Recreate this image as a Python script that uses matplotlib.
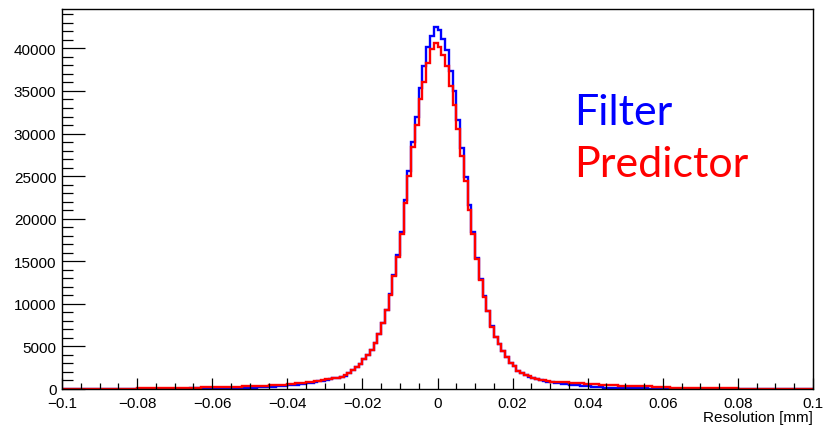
import numpy as np
import matplotlib
matplotlib.use("Agg")
import matplotlib.pyplot as plt
from matplotlib.ticker import MultipleLocator, FixedLocator, FixedFormatter

# histogram binning: 200 bins from -0.1 to 0.1 mm
x_min, x_max, n_bins = -0.1, 0.1, 200

# bin contents (entries per bin)
filter_counts = [
    12, 10, 14, 11, 15, 13, 16, 14, 18, 17,
    19, 18, 22, 20, 24, 23, 26, 25, 28, 30,
    31, 33, 32, 36, 38, 37, 41, 43, 45, 47,
    49, 52, 54, 57, 60, 62, 66, 69, 72, 76,
    80, 85, 90, 96, 103, 110, 118, 127, 137, 148,
    160, 175, 192, 210, 232, 255, 280, 310, 340, 375,
    420, 470, 520, 575, 630, 690, 760, 830, 910, 990,
    1080, 1160, 1240, 1330, 1440, 1580, 1850, 2180, 2560, 2980,
    3480, 4000, 4550, 5450, 6450, 7800, 9300, 11100, 13400, 15700,
    18400, 22200, 25600, 29000, 32000, 35300, 37900, 40200, 41500, 42500,
    42200, 41100, 39800, 37400, 35000, 31600, 28300, 24900, 21600, 18400,
    15400, 12900, 10900, 9200, 7350, 6060, 5300, 4500, 3700, 3100,
    2660, 2150, 1870, 1680, 1440, 1300, 1180, 1070, 970, 880,
    800, 730, 670, 615, 565, 520, 475, 430, 390, 350,
    310, 270, 235, 200, 170, 145, 125, 110, 100, 92,
    85, 80, 75, 70, 66, 62, 58, 55, 52, 49,
    46, 44, 41, 39, 37, 35, 33, 31, 30, 28,
    27, 26, 24, 23, 22, 21, 20, 19, 18, 17,
    17, 16, 15, 15, 14, 13, 13, 12, 12, 11,
    11, 10, 10, 9, 9, 9, 8, 8, 8, 7,
]

predictor_counts = [
    20, 22, 21, 24, 23, 26, 25, 28, 27, 30,
    32, 34, 36, 38, 41, 44, 47, 50, 54, 58,
    62, 67, 72, 77, 82, 88, 94, 100, 107, 114,
    121, 128, 136, 144, 152, 160, 168, 177, 186, 196,
    206, 216, 227, 238, 250, 262, 275, 289, 303, 318,
    334, 350, 367, 385, 404, 424, 445, 467, 490, 515,
    560, 605, 650, 700, 750, 805, 860, 920, 985, 1050,
    1120, 1190, 1270, 1350, 1460, 1590, 1860, 2180, 2560, 2980,
    3480, 4000, 4550, 5450, 6450, 7800, 9280, 11050, 13300, 15500,
    18200, 21900, 25000, 28400, 31000, 34000, 36100, 38300, 39900, 40600,
    40200, 39200, 37900, 35600, 33300, 30500, 27400, 24400, 21000, 18200,
    15300, 12850, 10850, 9150, 7330, 6060, 5300, 4500, 3700, 3100,
    2660, 2150, 1880, 1700, 1470, 1340, 1220, 1110, 1020, 940,
    880, 850, 820, 790, 765, 740, 710, 680, 650, 620,
    590, 565, 540, 515, 490, 465, 440, 415, 395, 380,
    365, 350, 340, 330, 320, 310, 300, 290, 280, 270,
    250, 200, 150, 130, 125, 120, 118, 115, 112, 110,
    108, 105, 100, 95, 92, 88, 84, 80, 70, 60,
    45, 38, 35, 32, 30, 28, 27, 26, 25, 24,
    23, 22, 22, 21, 20, 20, 19, 19, 18, 18,
]

x_ticks = [-0.1, -0.08, -0.06, -0.04, -0.02, 0, 0.02, 0.04, 0.06, 0.08, 0.1]
x_tick_labels = ["\u22120.1", "\u22120.08", "\u22120.06", "\u22120.04", "\u22120.02",
                 "0", "0.02", "0.04", "0.06", "0.08", "0.1"]
y_ticks = [0, 5000, 10000, 15000, 20000, 25000, 30000, 35000, 40000]
y_tick_labels = [str(v) for v in y_ticks]

plt.rcParams["font.family"] = ["Liberation Sans", "DejaVu Sans"]

fig = plt.figure(figsize=(8.24, 4.27), dpi=100)
ax = fig.add_axes([62 / 824, 1 - 390 / 427, (813 - 62) / 824, (390 - 10) / 427])

edges = np.linspace(x_min, x_max, n_bins + 1)
ax.stairs(filter_counts, edges, color="#0000ff", linewidth=1.7)
ax.stairs(predictor_counts, edges, color="#ff0000", linewidth=1.7)

ax.set_xlim(x_min, x_max)
ax.set_ylim(0, 1.05 * max(filter_counts))

# ROOT style ticks: inside, only left/bottom
ax.xaxis.set_major_locator(FixedLocator(x_ticks))
ax.xaxis.set_major_formatter(FixedFormatter(x_tick_labels))
ax.xaxis.set_minor_locator(MultipleLocator(0.005))
ax.yaxis.set_major_locator(FixedLocator(y_ticks))
ax.yaxis.set_major_formatter(FixedFormatter(y_tick_labels))
ax.yaxis.set_minor_locator(MultipleLocator(1000))

ax.tick_params(axis="x", which="major", direction="in", length=8.2, width=0.9, labelsize=11, pad=5)
ax.tick_params(axis="x", which="minor", direction="in", length=4.1, width=0.9)
ax.tick_params(axis="y", which="major", direction="in", length=16.5, width=0.9, labelsize=11, pad=4)
ax.tick_params(axis="y", which="minor", direction="in", length=8.2, width=0.9)

for s in ax.spines.values():
    s.set_linewidth(1.0)
    s.set_color("black")

fig.text(813 / 824, 1 - 422 / 427, "Resolution [mm]", ha="right", va="baseline", fontsize=11)

fig.text(574 / 824, 1 - 125 / 427, "Filter", color="#0000ff", fontsize=31,
         family=["Lato", "DejaVu Sans"], va="baseline", ha="left")
fig.text(574 / 824, 1 - 177 / 427, "Predictor", color="#ff0000", fontsize=31,
         family=["Lato", "DejaVu Sans"], va="baseline", ha="left")

fig.savefig("out.png", dpi=100)
